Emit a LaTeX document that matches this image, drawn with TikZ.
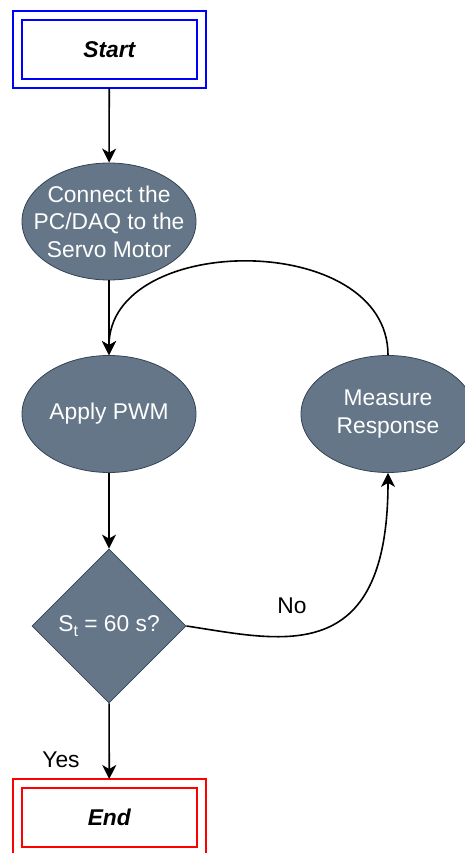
\documentclass[tikz,border=0pt]{standalone}
\usepackage{fontspec}
\setmainfont{Liberation Sans}
\usetikzlibrary{shapes.geometric,arrows.meta}
\definecolor{slatefill}{HTML}{647687}
\definecolor{slatedraw}{HTML}{314354}
\definecolor{termblue}{HTML}{0000FF}
\definecolor{termred}{HTML}{FF0000}
\newcommand{\lowsub}[1]{\raisebox{-5.5pt}{\fontsize{16}{16}\selectfont #1}}
\begin{document}
\begin{tikzpicture}[x=1pt,y=-1pt,
  every node/.style={font=\fontsize{22.8}{27.5}\selectfont},
  terminal/.style={rectangle, line width=1.8pt, double=white, double distance=7.2pt,
    minimum width=184.2pt, minimum height=68pt, inner sep=0pt, outer sep=4.5pt,
    font=\fontsize{22.8}{27.5}\selectfont\bfseries\itshape},
  proc/.style={ellipse, draw=slatedraw, line width=0.8pt, fill=slatefill, text=white,
    align=center, minimum width=174pt, minimum height=117pt, inner xsep=-20pt, inner ysep=0pt},
  decision/.style={diamond, aspect=1, draw=slatedraw, line width=0.8pt, fill=slatefill, text=white,
    minimum width=154pt, minimum height=154pt, inner sep=0pt},
  flow/.style={line width=1.6pt, -{Stealth[length=14pt,width=14pt,inset=4pt]}},
  lbl/.style={text=black}
]
\useasboundingbox (0,0) rectangle (464,853);
\node[terminal, draw=termblue] (start) at (109.3,49.5) {Start};
\node[proc] (conn) at (109,221.5) {Connect the\\PC/DAQ to the\\Servo Motor};
\node[proc] (apply) at (109,414) {Apply PWM};
\node[proc] (meas) at (388,414) {Measure\\Response};
\node[decision] (dec) at (109,626) {S\lowsub{t} = 60 s?};
\node[terminal, draw=termred] (end) at (109.3,817.5) {End};
\draw[flow] (start) -- (conn);
\draw[flow] (conn) -- (apply);
\draw[flow] (apply) -- (dec);
\draw[flow] (dec) -- (end);
\draw[flow] (meas.north) .. controls (388,230) and (109,232) .. (apply.north);
\draw[flow] (dec.east) .. controls (280,640) and (388,670) .. (meas.south);
\node[lbl] (no) at (292,606) {No};
\node[lbl] (yes) at (61,760) {Yes};
\end{tikzpicture}
\end{document}
